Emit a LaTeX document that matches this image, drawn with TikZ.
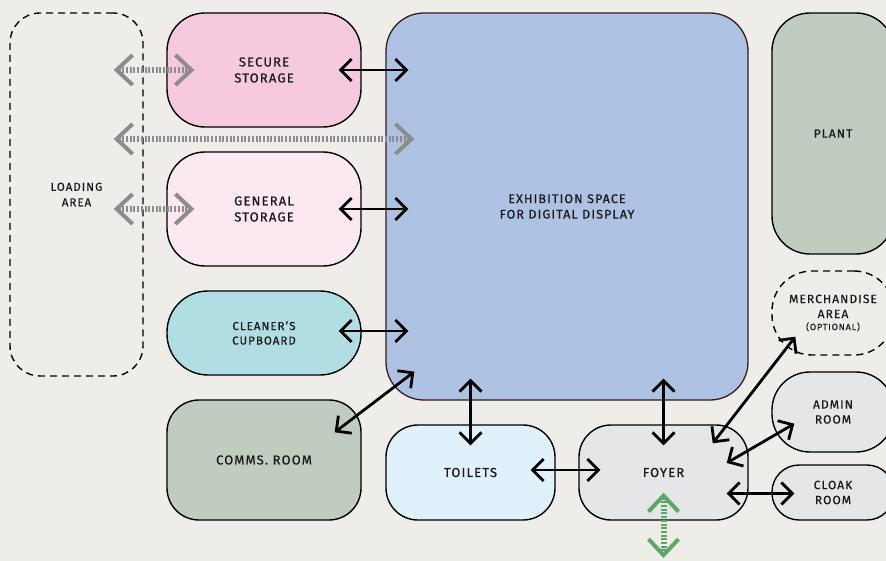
\documentclass[tikz,border=0pt]{standalone}
\usepackage{fontspec}
\setmainfont{Fira Sans}[LetterSpace=9, FakeBold=0.6]
\usetikzlibrary{arrows.meta,calc}
\definecolor{bg}{HTML}{EEEDE9}
\definecolor{pinkA}{HTML}{F7C9DE}
\definecolor{pinkB}{HTML}{FCE8F1}
\definecolor{teal}{HTML}{B0DEE3}
\definecolor{sage}{HTML}{C0CCC0}
\definecolor{blueEx}{HTML}{AEC3E4}
\definecolor{greyBox}{HTML}{E5E6E8}
\definecolor{lightBlue}{HTML}{DFF1FB}
\definecolor{exBorder}{HTML}{3A1A1F}
\definecolor{greyArr}{HTML}{8C8C8C}
\definecolor{greenArr}{HTML}{5DA665}
\definecolor{txt}{HTML}{1A1A1A}
\tikzset{
  room/.style={draw=black, line width=1.4pt, rectangle, inner sep=0pt, align=center,
    text=txt, font=\fontsize{12.5}{16}\selectfont},
  dashroom/.style={room, dash pattern=on 7pt off 5pt},
  conn/.style={line width=2.8pt, black, {Straight Barb[length=11pt,width=22pt,line join=miter]}-{Straight Barb[length=11pt,width=22pt,line join=miter]}},
  dotconn/.style={line width=6pt, dash pattern=on 2pt off 1.7pt,
    {Straight Barb[length=16pt,width=30pt,line width=4pt,line join=miter]}-{Straight Barb[length=16pt,width=30pt,line width=4pt,line join=miter]}},
}
\begin{document}
\begin{tikzpicture}[x=1pt,y=-1pt]
\fill[bg] (0,0) rectangle (886,561);
\useasboundingbox (0,0) rectangle (886,561);
\clip (0,0) rectangle (886,561);
% rooms
\node[dashroom, rounded corners=30pt, minimum width=133pt, minimum height=363pt,
  font=\fontsize{11.5}{15.5}\selectfont] (load) at (76.5,194.5) {LOADING\\AREA};
\node[room, fill=pinkA, rounded corners=38pt, minimum width=194pt, minimum height=114pt,
  font=\fontsize{13}{16}\selectfont] (ss) at (264,70) {SECURE\\STORAGE};
\node[room, fill=pinkB, rounded corners=38pt, minimum width=194pt, minimum height=114pt,
  font=\fontsize{13}{16}\selectfont] (gs) at (264,209) {GENERAL\\STORAGE};
\node[room, fill=teal, rounded corners=41pt, minimum width=194pt, minimum height=84pt,
  font=\fontsize{11.5}{14.5}\selectfont] (cc) at (264,333) {CLEANER’S\\CUPBOARD};
\node[room, fill=sage, rounded corners=32pt, minimum width=194pt, minimum height=120pt,
  font=\fontsize{13}{16}\selectfont] (cr) at (264,460) {COMMS. ROOM};
\node[room, draw=exBorder, line width=1.3pt, fill=blueEx, rounded corners=38pt, minimum width=362pt, minimum height=387pt,
  font=\fontsize{12.5}{15.5}\selectfont] (ex) at (567,206.5) {EXHIBITION SPACE\\FOR DIGITAL DISPLAY};
\node[room, fill=sage, rounded corners=38pt, minimum width=122pt, minimum height=241pt,
  font=\fontsize{12}{15}\selectfont] (pl) at (833,133.5) {PLANT};
\node[dashroom, rounded corners=40pt, minimum width=122pt, minimum height=84pt,
  font=\fontsize{12}{15}\selectfont] (me) at (833,313) {MERCHANDISE\\AREA\\[-3pt]{\fontsize{9}{10}\selectfont(OPTIONAL)}};
\node[room, fill=greyBox, rounded corners=38pt, minimum width=122pt, minimum height=80pt,
  font=\fontsize{12}{15}\selectfont] (ad) at (833,412) {ADMIN\\ROOM};
\node[room, fill=greyBox, rounded corners=27pt, minimum width=122pt, minimum height=55pt,
  font=\fontsize{12}{15}\selectfont] (ck) at (833,492.5) {CLOAK\\ROOM};
\node[room, fill=lightBlue, rounded corners=32pt, minimum width=169pt, minimum height=95pt,
  font=\fontsize{13}{16}\selectfont] (to) at (470.5,472.5) {TOILETS};
\node[room, fill=greyBox, rounded corners=32pt, minimum width=169pt, minimum height=95pt,
  font=\fontsize{13}{16}\selectfont] (fo) at (663.5,472.5) {FOYER};
% grey dotted connectors
\draw[dotconn, greyArr] ($(load.east |- ss.west)+(-30,0)$) -- ($(ss.west)+(28,0)$);
\draw[dotconn, greyArr] ($(load.east)+(-30,-55.5)$) -- ($(ex.west)+(29,-67.5)$);
\draw[dotconn, greyArr] ($(load.east |- gs.west)+(-30,0)$) -- ($(gs.west)+(28,0)$);
% green entrance
\coordinate (entry) at (663.5,558);
\draw[dotconn, greenArr] ($(fo.south)+(0,-28)$) -- (entry);
% black connectors
\draw[conn] ($(ss.east)+(-23,0)$) -- ($(ss.east -| ex.west)+(23,0)$);
\draw[conn] ($(gs.east)+(-23,0)$) -- ($(gs.east -| ex.west)+(23,0)$);
\draw[conn] ($(cc.east)+(-23,-2)$) -- ($(cc.east -| ex.west)+(23,-2)$);
\draw[conn] ($(cr.north east)+(-27,33)$) -- ($(ex.south west)+(29,-29)$);
\draw[conn] ($(to.north)+(0,21)$) -- ($(to.north |- ex.south)+(0,-22)$);
\draw[conn] ($(fo.north)+(0,21)$) -- ($(fo.north |- ex.south)+(0,-22)$);
\draw[conn] ($(to.east)+(-25,-2.5)$) -- ($(fo.west)+(22,-2.5)$);
\draw[conn] ($(fo.north east)+(-36,19)$) -- ($(me.south west)+(24,-19)$);
\draw[conn] ($(fo.east)+(-22,-9.5)$) -- ($(ad.south west)+(23,-29)$);
\draw[conn] ($(fo.east)+(-22,21)$) -- ($(ck.west)+(23,1)$);
\end{tikzpicture}
\end{document}
